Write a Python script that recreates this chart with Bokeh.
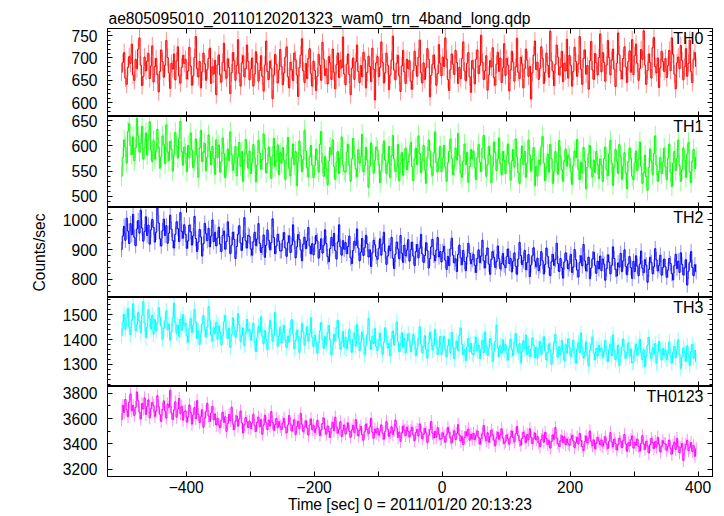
import numpy as np
from bokeh.plotting import figure
from bokeh.layouts import column
from bokeh.models import LinearAxis, FixedTicker, Range1d, Label
from bokeh.embed import file_html
from bokeh.resources import INLINE

TITLE = "ae805095010_20110120201323_wam0_trn_4band_long.qdp"
X_LABEL = "Time [sec] 0 = 2011/01/20 20:13:23"
Y_LABEL = "Counts/sec"
T_START = -501
BIN_SEC = 2

BANDS = ["TH0", "TH1", "TH2", "TH3", "TH0123"]
COLORS = ["#ff0000", "#00ff00", "#0000ff", "#00ffff", "#ff00ff"]

th0 = [
    668, 690, 712, 655, 641, 679, 703, 688, 731, 662, 650, 697, 676, 720, 745, 684, 638, 659, 702, 671, 693, 710, 654, 682, 727,
    646, 681, 699, 663, 624, 670, 718, 692, 657, 684, 739, 701, 667, 632, 688, 675, 709, 651, 693, 725, 660, 644, 679, 706, 688,
    697, 653, 671, 724, 682, 639, 660, 701, 748, 676, 658, 692, 633, 669, 711, 687, 650, 674, 699, 722, 643, 680, 664, 695, 618,
    684, 707, 662, 646, 690, 733, 671, 655, 698, 679, 620, 667, 712, 694, 650, 683, 741, 666, 637, 689, 705, 658, 676, 729, 692,
    651, 675, 700, 637, 664, 714, 689, 648, 672, 705, 659, 626, 684, 738, 670, 652, 693, 677, 609, 662, 708, 686, 644, 673, 719,
    681, 640, 667, 702, 725, 658, 633, 690, 674, 649, 711, 696, 662, 614, 679, 706, 743, 671, 645, 688, 654, 699, 721, 665, 637,
    693, 672, 627, 659, 708, 684, 650, 735, 697, 661, 676, 642, 703, 689, 652, 720, 668, 631, 685, 711, 656, 694, 678, 747, 664,
    640, 686, 709, 663, 618, 677, 700, 652, 691, 729, 670, 645, 683, 658, 712, 696, 633, 668, 704, 681, 647, 722, 675, 606, 689,
    703, 658, 679, 736, 690, 644, 667, 711, 684, 629, 662, 695, 749, 673, 651, 688, 706, 660, 625, 682, 717, 669, 643, 697, 676,
    694, 648, 630, 672, 715, 683, 659, 701, 740, 667, 644, 689, 652, 678, 721, 697, 613, 661, 686, 707, 676, 639, 665, 730, 688,
    660, 702, 681, 745, 698, 652, 627, 674, 709, 686, 663, 717, 690, 643, 679, 654, 699, 736, 671, 649, 688, 712, 658, 623, 694,
    676, 642, 697, 718, 665, 683, 751, 690, 652, 671, 705, 628, 662, 694, 680, 723, 656, 639, 686, 713, 670, 700, 645, 678, 732,
    661, 699, 684, 626, 673, 715, 691, 648, 680, 744, 668, 654, 702, 687, 633, 676, 720, 695, 659, 681, 608, 667, 706, 738, 674,
    690, 652, 677, 725, 699, 643, 668, 711, 684, 657, 760, 693, 671, 638, 686, 729, 702, 662, 679, 715, 647, 688, 671, 742, 655,
    706, 683, 637, 670, 724, 692, 659, 687, 748, 675, 641, 699, 718, 664, 683, 630, 694, 737, 673, 652, 710, 689, 662, 701, 754,
    669, 712, 690, 648, 684, 739, 701, 662, 695, 720, 675, 636, 688, 756, 707, 671, 653, 699, 725, 680, 645, 692, 716, 668, 741,
    663, 705, 731, 688, 650, 676, 719, 697, 761, 684, 641, 672, 709, 690, 655, 723, 746, 681, 667, 700, 634, 678, 715, 692, 670,
    699, 656, 683, 717, 672, 745, 708, 664, 631, 689, 702, 676, 728, 694, 651, 680, 721, 659, 688, 740, 670, 645, 697, 712, 681,
]
th1 = [
    540, 577, 612, 598, 566, 629, 644, 601, 583, 618, 571, 596, 655, 620, 588, 605, 639, 574, 597, 626, 582, 613, 648, 592, 569,
    611, 574, 590, 633, 597, 556, 579, 620, 603, 565, 642, 588, 571, 609, 594, 550, 583, 627, 600, 576, 615, 649, 589, 562, 598,
    585, 549, 601, 577, 626, 592, 557, 570, 614, 583, 538, 596, 631, 569, 588, 605, 551, 578, 622, 590, 563, 599, 575, 544, 612,
    577, 602, 548, 569, 616, 585, 537, 560, 594, 571, 628, 583, 552, 566, 599, 541, 578, 607, 560, 589, 530, 572, 613, 584, 556,
    590, 545, 568, 603, 577, 529, 562, 611, 586, 554, 573, 624, 595, 547, 565, 598, 578, 536, 580, 615, 559, 571, 602, 543, 587,
    566, 597, 572, 534, 583, 617, 556, 541, 576, 604, 563, 589, 521, 568, 610, 582, 549, 573, 631, 590, 557, 539, 578, 601, 562,
    537, 561, 594, 572, 548, 603, 629, 566, 540, 579, 555, 523, 570, 597, 583, 612, 559, 534, 568, 589, 545, 576, 618, 562, 550,
    548, 588, 603, 562, 530, 574, 615, 581, 555, 539, 593, 566, 578, 623, 549, 561, 597, 572, 518, 560, 606, 583, 546, 571, 598,
    592, 563, 527, 551, 584, 610, 572, 545, 566, 599, 537, 580, 621, 574, 549, 558, 603, 531, 565, 587, 542, 575, 596, 553, 568,
    582, 607, 559, 531, 574, 596, 563, 620, 585, 547, 569, 601, 553, 526, 578, 612, 590, 558, 542, 586, 628, 567, 549, 575, 599,
    549, 576, 601, 558, 530, 567, 589, 614, 575, 543, 560, 596, 572, 625, 581, 546, 538, 570, 604, 563, 587, 528, 559, 593, 574,
    590, 558, 533, 577, 603, 568, 549, 596, 621, 575, 540, 563, 599, 582, 527, 560, 608, 587, 551, 574, 616, 565, 543, 589, 571,
    545, 581, 604, 566, 532, 570, 593, 558, 614, 579, 547, 526, 575, 600, 563, 589, 538, 566, 612, 582, 550, 573, 597, 521, 560,
    540, 572, 563, 598, 619, 566, 531, 557, 584, 548, 603, 575, 526, 550, 589, 567, 544, 611, 579, 553, 530, 571, 594, 560, 582,
    576, 549, 524, 561, 590, 577, 613, 554, 533, 568, 546, 597, 570, 515, 558, 585, 601, 556, 539, 572, 548, 589, 563, 535, 574,
    562, 530, 575, 598, 553, 541, 584, 611, 566, 522, 558, 593, 570, 546, 603, 579, 534, 560, 587, 547, 515, 569, 596, 576, 540,
    533, 566, 590, 551, 574, 608, 560, 526, 547, 582, 539, 512, 557, 594, 571, 543, 585, 620, 562, 530, 549, 577, 545, 568, 596,
    559, 533, 576, 604, 548, 520, 566, 589, 551, 575, 612, 561, 530, 553, 596, 572, 538, 584, 607, 549, 527, 570, 593, 555, 578,
]
th2 = [
    900, 945, 978, 931, 1005, 962, 920, 987, 950, 1018, 941, 913, 969, 997, 955, 1032, 972, 928, 960, 1010, 947, 982, 918, 966, 1001,
    974, 925, 958, 1040, 989, 936, 912, 963, 1002, 947, 980, 921, 955, 1015, 968, 930, 905, 951, 993, 970, 927, 1024, 961, 938, 983,
    951, 904, 929, 982, 960, 915, 946, 1011, 937, 893, 925, 967, 942, 878, 920, 988, 953, 930, 971, 909, 945, 999, 926, 958, 912,
    939, 975, 918, 893, 947, 962, 901, 927, 993, 944, 886, 915, 958, 934, 870, 910, 951, 980, 922, 897, 940, 1007, 929, 905, 948,
    944, 902, 881, 926, 958, 913, 935, 987, 921, 890, 907, 949, 874, 915, 966, 931, 899, 923, 1003, 940, 886, 912, 951, 928, 895,
    896, 932, 957, 905, 877, 923, 946, 890, 915, 983, 928, 872, 909, 950, 934, 899, 862, 918, 941, 903, 929, 974, 912, 885, 920,
    882, 918, 947, 929, 871, 900, 936, 888, 914, 966, 920, 876, 859, 903, 941, 912, 954, 897, 868, 925, 983, 909, 881, 930, 901,
    923, 886, 910, 945, 872, 853, 897, 928, 914, 969, 905, 862, 891, 937, 880, 906, 948, 919, 875, 899, 843, 889, 931, 916, 877,
    867, 904, 936, 881, 919, 958, 893, 850, 878, 912, 896, 941, 871, 836, 884, 925, 902, 869, 947, 888, 857, 915, 879, 898, 933,
    861, 899, 925, 878, 846, 893, 917, 872, 904, 951, 885, 857, 880, 923, 896, 838, 870, 909, 934, 881, 862, 898, 940, 875, 893,
    858, 893, 911, 864, 833, 877, 846, 902, 938, 881, 855, 869, 826, 884, 915, 872, 849, 897, 860, 829, 875, 921, 888, 852, 866,
    884, 847, 823, 870, 899, 856, 878, 931, 862, 838, 881, 905, 851, 817, 867, 893, 874, 840, 859, 912, 869, 835, 853, 887, 848,
    839, 876, 902, 853, 870, 825, 861, 889, 844, 817, 868, 924, 880, 849, 863, 897, 832, 856, 883, 809, 848, 879, 906, 861, 842,
    871, 829, 846, 893, 862, 818, 850, 905, 877, 840, 812, 859, 884, 847, 866, 921, 853, 826, 870, 839, 804, 858, 889, 864, 835,
    852, 884, 823, 841, 900, 866, 831, 808, 856, 879, 845, 917, 862, 828, 850, 874, 802, 838, 869, 891, 847, 820, 861, 835, 878,
    829, 868, 851, 797, 836, 882, 858, 818, 847, 909, 870, 833, 811, 855, 841, 887, 826, 862, 899, 844, 815, 852, 876, 839, 803,
    860, 826, 879, 844, 812, 851, 895, 837, 822, 866, 848, 790, 833, 874, 857, 819, 842, 903, 865, 828, 846, 881, 814, 839, 868,
    842, 807, 831, 870, 853, 819, 798, 846, 884, 836, 861, 823, 889, 850, 815, 838, 866, 781, 827, 857, 893, 840, 812, 849, 826,
]
th3 = [
    1415, 1470, 1502, 1441, 1489, 1526, 1452, 1420, 1478, 1545, 1493, 1436, 1461, 1510, 1475, 1428, 1497, 1553, 1466, 1409, 1450, 1521, 1484, 1443, 1499,
    1423, 1481, 1437, 1468, 1529, 1492, 1455, 1401, 1447, 1474, 1516, 1440, 1463, 1398, 1432, 1488, 1547, 1470, 1425, 1459, 1412, 1483, 1438, 1501, 1456,
    1467, 1415, 1390, 1444, 1486, 1429, 1458, 1522, 1471, 1405, 1436, 1381, 1427, 1463, 1498, 1440, 1412, 1451, 1533, 1476, 1419, 1396, 1448, 1425, 1470,
    1402, 1455, 1431, 1379, 1416, 1472, 1497, 1438, 1404, 1446, 1369, 1421, 1488, 1450, 1411, 1433, 1505, 1461, 1392, 1418, 1447, 1376, 1429, 1482, 1437,
    1441, 1398, 1425, 1466, 1389, 1352, 1407, 1453, 1430, 1492, 1414, 1383, 1436, 1401, 1359, 1427, 1478, 1445, 1394, 1419, 1509, 1440, 1373, 1412, 1450,
    1386, 1429, 1457, 1400, 1368, 1414, 1390, 1445, 1481, 1423, 1363, 1396, 1438, 1412, 1348, 1404, 1466, 1431, 1377, 1419, 1452, 1393, 1425, 1488, 1409,
    1372, 1418, 1394, 1345, 1387, 1436, 1469, 1401, 1365, 1412, 1380, 1428, 1457, 1399, 1338, 1376, 1421, 1395, 1448, 1477, 1406, 1361, 1389, 1433, 1370,
    1410, 1364, 1397, 1442, 1381, 1349, 1402, 1426, 1375, 1461, 1415, 1356, 1388, 1431, 1407, 1339, 1378, 1420, 1485, 1396, 1360, 1413, 1385, 1444, 1372,
    1357, 1399, 1426, 1374, 1340, 1391, 1448, 1412, 1366, 1385, 1334, 1403, 1435, 1378, 1419, 1471, 1392, 1351, 1382, 1428, 1369, 1405, 1346, 1394, 1423,
    1398, 1352, 1379, 1421, 1390, 1336, 1364, 1407, 1452, 1383, 1347, 1372, 1416, 1361, 1325, 1386, 1430, 1404, 1358, 1377, 1441, 1395, 1340, 1369, 1412,
    1340, 1387, 1412, 1359, 1331, 1376, 1401, 1348, 1429, 1372, 1322, 1366, 1394, 1355, 1418, 1447, 1381, 1339, 1360, 1315, 1370, 1405, 1352, 1385, 1344,
    1339, 1384, 1410, 1355, 1378, 1323, 1362, 1397, 1348, 1431, 1373, 1337, 1365, 1404, 1386, 1312, 1351, 1392, 1459, 1368, 1330, 1375, 1346, 1399, 1357,
    1381, 1343, 1318, 1367, 1402, 1359, 1335, 1390, 1425, 1372, 1349, 1384, 1308, 1352, 1396, 1364, 1418, 1340, 1375, 1331, 1360, 1407, 1378, 1326, 1369,
    1325, 1366, 1392, 1340, 1374, 1412, 1355, 1318, 1347, 1383, 1360, 1301, 1343, 1389, 1421, 1362, 1329, 1371, 1338, 1396, 1352, 1316, 1380, 1345, 1403,
    1371, 1332, 1356, 1398, 1341, 1305, 1363, 1387, 1348, 1427, 1369, 1326, 1350, 1391, 1337, 1294, 1358, 1382, 1410, 1346, 1319, 1365, 1334, 1377, 1353,
    1366, 1329, 1351, 1398, 1344, 1312, 1360, 1381, 1335, 1419, 1357, 1320, 1342, 1378, 1295, 1339, 1370, 1403, 1352, 1325, 1348, 1387, 1333, 1362, 1306,
    1311, 1354, 1382, 1337, 1365, 1402, 1348, 1320, 1359, 1290, 1332, 1378, 1409, 1346, 1323, 1368, 1341, 1384, 1305, 1350, 1393, 1357, 1318, 1364, 1339,
    1358, 1320, 1345, 1391, 1333, 1306, 1349, 1372, 1327, 1361, 1399, 1340, 1284, 1329, 1366, 1347, 1312, 1375, 1338, 1296, 1352, 1380, 1325, 1357, 1310,
]
th0123 = [
    3590, 3705, 3648, 3752, 3671, 3614, 3730, 3795, 3662, 3703, 3625, 3688, 3811, 3740, 3651, 3597, 3719, 3676, 3764, 3632, 3695, 3748, 3605, 3680, 3726,
    3702, 3618, 3659, 3781, 3694, 3631, 3577, 3672, 3740, 3660, 3603, 3715, 3689, 3824, 3645, 3592, 3668, 3733, 3611, 3676, 3759, 3640, 3698, 3587, 3654,
    3661, 3573, 3612, 3708, 3649, 3556, 3630, 3687, 3598, 3742, 3634, 3569, 3613, 3670, 3531, 3602, 3655, 3721, 3620, 3578, 3644, 3696, 3590, 3637, 3549,
    3602, 3548, 3527, 3588, 3651, 3570, 3613, 3499, 3561, 3632, 3584, 3690, 3556, 3512, 3579, 3621, 3540, 3597, 3660, 3566, 3486, 3553, 3608, 3574, 3529,
    3580, 3521, 3563, 3634, 3545, 3498, 3571, 3610, 3535, 3592, 3476, 3549, 3627, 3566, 3513, 3588, 3541, 3655, 3570, 3507, 3552, 3601, 3528, 3575, 3538,
    3512, 3566, 3601, 3530, 3487, 3549, 3625, 3558, 3501, 3544, 3590, 3473, 3536, 3578, 3519, 3640, 3554, 3495, 3532, 3583, 3526, 3469, 3548, 3597, 3511,
    3547, 3490, 3521, 3586, 3533, 3466, 3509, 3560, 3604, 3518, 3477, 3541, 3498, 3451, 3525, 3570, 3503, 3611, 3532, 3484, 3516, 3575, 3459, 3507, 3549,
    3478, 3523, 3565, 3497, 3452, 3510, 3546, 3487, 3591, 3520, 3463, 3505, 3538, 3471, 3429, 3496, 3557, 3512, 3480, 3533, 3602, 3491, 3445, 3517, 3486,
    3521, 3468, 3502, 3549, 3483, 3437, 3498, 3576, 3514, 3459, 3490, 3535, 3474, 3506, 3588, 3527, 3451, 3493, 3419, 3485, 3541, 3508, 3466, 3532, 3497,
    3455, 3503, 3532, 3470, 3426, 3489, 3514, 3461, 3558, 3494, 3440, 3476, 3521, 3487, 3410, 3468, 3512, 3577, 3483, 3446, 3499, 3452, 3528, 3475, 3436,
    3441, 3487, 3456, 3413, 3472, 3529, 3490, 3447, 3408, 3466, 3503, 3435, 3481, 3552, 3470, 3422, 3459, 3394, 3448, 3496, 3463, 3517, 3429, 3475, 3440,
    3482, 3433, 3465, 3501, 3452, 3397, 3440, 3478, 3546, 3461, 3425, 3488, 3413, 3457, 3509, 3471, 3430, 3384, 3449, 3492, 3436, 3470, 3518, 3444, 3403,
    3421, 3470, 3438, 3397, 3456, 3502, 3449, 3415, 3480, 3537, 3462, 3426, 3389, 3444, 3491, 3458, 3410, 3475, 3433, 3519, 3452, 3402, 3440, 3486, 3431,
    3458, 3407, 3376, 3433, 3469, 3412, 3490, 3441, 3395, 3427, 3366, 3418, 3472, 3436, 3529, 3447, 3401, 3380, 3425, 3463, 3410, 3455, 3392, 3438, 3404,
    3389, 3436, 3467, 3424, 3371, 3410, 3452, 3399, 3483, 3426, 3378, 3348, 3419, 3461, 3407, 3444, 3502, 3416, 3385, 3431, 3360, 3405, 3450, 3421, 3394,
    3430, 3381, 3412, 3456, 3397, 3363, 3420, 3489, 3414, 3376, 3438, 3402, 3352, 3391, 3445, 3417, 3370, 3426, 3473, 3399, 3341, 3409, 3384, 3432, 3462,
    3366, 3411, 3389, 3438, 3379, 3342, 3403, 3465, 3398, 3356, 3420, 3384, 3327, 3393, 3441, 3409, 3362, 3418, 3374, 3451, 3396, 3335, 3381, 3424, 3401,
    3398, 3349, 3381, 3430, 3364, 3318, 3387, 3412, 3355, 3442, 3376, 3331, 3369, 3403, 3268, 3358, 3395, 3427, 3346, 3372, 3410, 3339, 3385, 3301, 3362,
]
SERIES = [th0, th1, th2, th3, th0123]
ERRORS = [20, 20, 26, 32, 52]

X_RANGE = (-523, 422.5)
X_TICKS = [-400, -200, 0, 200, 400]
X_TICK_LABELS = ["\u2212400", "\u2212200", "0", "200", "400"]
X_MINOR = [-300, -100, 100, 300]

Y_RANGES = [(569, 766), (478, 658.5), (739, 1041), (1211, 1570), (3141, 3854)]
Y_TICKS = [[600, 650, 700, 750], [500, 550, 600, 650], [800, 900, 1000],
           [1300, 1400, 1500], [3200, 3400, 3600, 3800]]
Y_MINOR_STEP = [10, 10, 20, 20, 100]

FONT = "Liberation Sans"
FS = "15.6px"
FRAME_W = 605
FRAME_H = [88, 91, 90, 89, 90]
OVERLAP = 10


def make_axis(ticker, show_labels, tick_len=5, minor_len=3):
    ax = LinearAxis(ticker=ticker, major_tick_in=tick_len, major_tick_out=0,
                    minor_tick_in=minor_len, minor_tick_out=0,
                    axis_line_color="black", major_tick_line_color="black",
                    minor_tick_line_color="black")
    if show_labels:
        ax.major_label_text_font = FONT
        ax.major_label_text_font_size = FS
        ax.major_label_text_color = "black"
    else:
        ax.major_label_text_font_size = "0px"
        ax.major_label_text_color = None
        ax.major_label_standoff = 0
    return ax


def style_axis_label(ax, text, standoff):
    ax.axis_label = text
    ax.axis_label_text_font = FONT
    ax.axis_label_text_font_size = FS
    ax.axis_label_text_font_style = "normal"
    ax.axis_label_text_color = "black"
    ax.axis_label_standoff = standoff


xr = Range1d(*X_RANGE)
figs = []
n = len(BANDS)
for i in range(n):
    lo, hi = Y_RANGES[i]
    last = i == n - 1
    first = i == 0
    extra = {} if first else {"styles": {"margin-top": f"-{OVERLAP}px"}}
    p = figure(frame_width=FRAME_W, frame_height=FRAME_H[i], x_range=xr,
               y_range=Range1d(lo, hi), x_axis_type=None, y_axis_type=None,
               output_backend="svg", toolbar_location=None,
               min_border_left=107, min_border_right=5,
               min_border_top=28 if first else OVERLAP, min_border_bottom=0,
               outline_line_color="black", outline_line_width=1,
               background_fill_color="white",
               border_fill_color="white", border_fill_alpha=1.0 if first else 0.0,
               **extra)
    if first:
        p.title.text = TITLE
        p.title.text_font = FONT
        p.title.text_font_size = FS
        p.title.text_font_style = "normal"
        p.title.text_color = "black"
        p.title.align = "left"
        p.title.offset = 1
        p.title.standoff = 4

    step = Y_MINOR_STEP[i]
    start = int(np.ceil(lo / step) * step)
    yminor = [v for v in range(start, int(hi) + 1, step) if v not in Y_TICKS[i]]

    left = make_axis(FixedTicker(ticks=Y_TICKS[i], minor_ticks=yminor), True)
    left.major_label_standoff = 10
    if i == 2:
        style_axis_label(left, Y_LABEL, 12)
    p.add_layout(left, "left")
    p.add_layout(make_axis(FixedTicker(ticks=Y_TICKS[i], minor_ticks=yminor), False), "right")

    p.add_layout(make_axis(FixedTicker(ticks=X_TICKS, minor_ticks=X_MINOR), False, 5, 5), "above")
    bottom = make_axis(FixedTicker(ticks=X_TICKS, minor_ticks=X_MINOR), last, 5, 5)
    if last:
        bottom.major_label_overrides = dict(zip(X_TICKS, X_TICK_LABELS))
        bottom.major_label_standoff = 4
        style_axis_label(bottom, X_LABEL, 0)
    p.add_layout(bottom, "below")

    vals = np.array(SERIES[i], dtype=float)
    t = T_START + BIN_SEC * np.arange(len(vals))
    err = ERRORS[i]
    p.segment(x0=t, y0=vals - err, x1=t, y1=vals + err,
              line_color=COLORS[i], line_alpha=0.45, line_width=1)
    p.step(t, vals, mode="center", line_color=COLORS[i], line_width=1)

    p.add_layout(Label(x=X_RANGE[1], y=hi, x_offset=-9, y_offset=-1, text=BANDS[i],
                       text_align="right", text_baseline="top",
                       text_font=FONT, text_font_size="16px", text_color="black"))
    figs.append(p)

layout = column(*figs, spacing=0)
open("out.html", "w").write(file_html(layout, INLINE))
